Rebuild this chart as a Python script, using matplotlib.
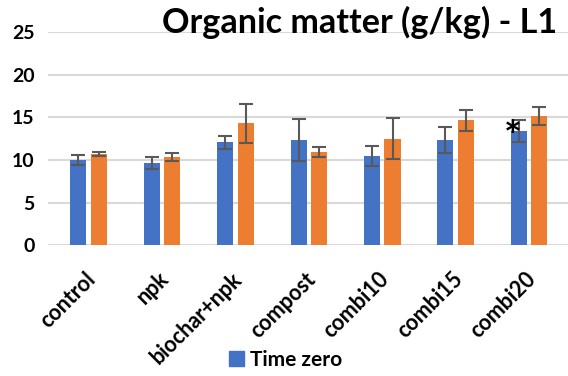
import matplotlib.pyplot as plt
import numpy as np
from matplotlib.patches import Patch

# values
categories = ['control', 'npk', 'biochar+npk', 'compost', 'combi10', 'combi15', 'combi20']
time_zero = [10.0, 9.6, 12.05, 12.3, 10.45, 12.3, 13.4]
time_zero_err = [0.55, 0.7, 0.8, 2.45, 1.2, 1.5, 1.3]
time_end = [10.7, 10.3, 14.3, 10.95, 12.5, 14.65, 15.1]
time_end_err = [0.25, 0.45, 2.3, 0.6, 2.45, 1.25, 1.05]

plt.rcParams['font.family'] = ['Lato', 'DejaVu Sans']
plt.rcParams['font.weight'] = 'bold'

fig = plt.figure(figsize=(5.68, 3.76), dpi=100)
ax = fig.add_axes([0.085, 0.348, 0.915, 0.567])

x = np.arange(len(categories))
w = 0.22
off = 0.14
err_kw = dict(ecolor='#595959', elinewidth=1.5, capsize=5, capthick=1.5)
ax.bar(x - off, time_zero, w, yerr=time_zero_err, color='#4472C4',
       error_kw=err_kw, zorder=3)
ax.bar(x + off, time_end, w, yerr=time_end_err, color='#ED7D31',
       error_kw=err_kw, zorder=3)

ax.set_ylim(0, 25)
ax.set_xlim(-0.55, 6.53)
ax.set_yticks([0, 5, 10, 15, 20, 25])
ax.yaxis.grid(True, color='#D9D9D9', linewidth=1.5, zorder=0)
for s in ax.spines.values():
    s.set_visible(False)
ax.tick_params(axis='both', length=0)
ax.tick_params(axis='y', pad=10, labelsize=14)
for lab in ax.get_yticklabels():
    lab.set_fontweight('bold')

# category labels placed by hand so the rotated text ends just right of the tick
ax.set_xticks(x)
ax.set_xticklabels([])
for i, cat in enumerate(categories):
    ax.annotate(cat, xy=(i, 0), xycoords=('data', 'axes fraction'),
                xytext=(-4, -23), textcoords='offset pixels',
                rotation=45, rotation_mode='anchor', ha='right', va='top',
                fontsize=15.5, fontweight='bold', annotation_clip=False)

# significance mark
ax.text(5.78, 12.45, '*', fontsize=30, ha='center', va='center',
        fontweight='bold', zorder=4)

fig.text(0.98, 0.94, 'Organic matter (g/kg) - L1', fontsize=24.6,
         fontweight='bold', ha='right', va='center')

fig.legend(handles=[Patch(color='#4472C4', label='Time zero')],
           loc='center', bbox_to_anchor=(0.503, 0.043), frameon=False,
           prop={'size': 15, 'weight': 'bold'}, handlelength=0.7,
           handleheight=0.7, handletextpad=0.3)

fig.savefig('out.png', dpi=100)
